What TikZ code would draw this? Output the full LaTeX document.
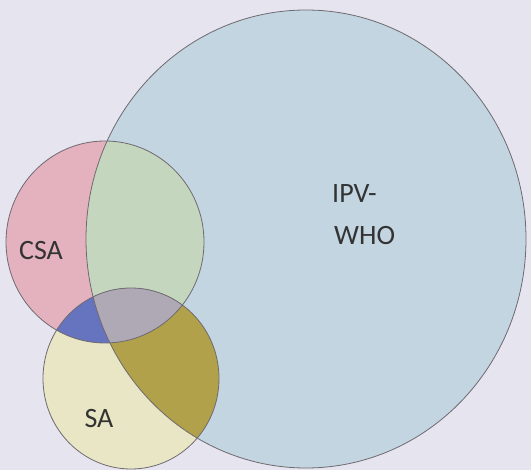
\documentclass[tikz,border=0pt]{standalone}
\usepackage{fontspec}
\setmainfont{Carlito}
\definecolor{bg}{HTML}{E5E4EF}
\definecolor{ipvcol}{HTML}{C3D5E1}
\definecolor{csacol}{HTML}{E3B2BE}
\definecolor{sacol}{HTML}{E8E6C4}
\definecolor{greencol}{HTML}{C5D6BE}
\definecolor{bluecol}{HTML}{6673BE}
\definecolor{graycol}{HTML}{AFA9B6}
\definecolor{olivecol}{HTML}{B1A14B}
\definecolor{edge}{HTML}{6F6A70}
\definecolor{ink}{HTML}{333333}
\begin{document}
\begin{tikzpicture}[x=1pt,y=-1pt,
  ring/.style={draw=edge, line width=0.8pt},
  lbl/.style={font=\fontsize{28}{34}\selectfont, text=ink, inner sep=0pt}]
\useasboundingbox (0,0) rectangle (531,470);
\fill[bg] (0,0) rectangle (531,470);
% circle centres
\coordinate (ipvc) at (306,239);
\coordinate (csac) at (105,242);
\coordinate (sac)  at (131,378.5);
\def\ipv{(ipvc) ellipse [x radius=220pt, y radius=229pt]}
\def\csa{(csac) ellipse [x radius=99pt, y radius=101pt]}
\def\sa{(sac) ellipse [x radius=88pt, y radius=90.5pt]}
% single sets
\fill[ipvcol] \ipv;
\fill[csacol] \csa;
\fill[sacol] \sa;
% pairwise overlaps
\begin{scope}\clip \csa; \fill[greencol] \ipv; \end{scope}
\begin{scope}\clip \sa; \fill[olivecol] \ipv; \end{scope}
\begin{scope}\clip \csa; \fill[bluecol] \sa; \end{scope}
% triple overlap
\begin{scope}\clip \csa; \clip \sa; \fill[graycol] \ipv; \end{scope}
% outlines
\draw[ring] \ipv;
\draw[ring] \csa;
\draw[ring] \sa;
% labels
\node[lbl, anchor=base] (csalabel) at (41,260) {CSA};
\node[lbl, anchor=base] (salabel) at (99,428) {SA};
\node[lbl, anchor=base west] (ipvlabel) at (332,203) {IPV-};
\node[lbl, anchor=base west] (wholabel) at (334,245) {WHO};
\end{tikzpicture}
\end{document}
